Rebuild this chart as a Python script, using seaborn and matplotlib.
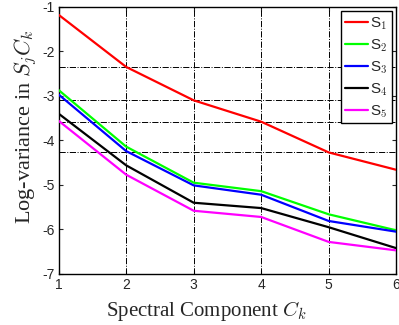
import numpy as np
import pandas as pd
import matplotlib
matplotlib.use("Agg")
import matplotlib.pyplot as plt
import seaborn as sns

# data
components = [1, 2, 3, 4, 5, 6]
s1 = [-1.18, -2.35, -3.10, -3.58, -4.27, -4.66]
s2 = [-2.87, -4.14, -4.95, -5.14, -5.66, -6.02]
s3 = [-2.97, -4.24, -5.01, -5.22, -5.81, -6.05]
s4 = [-3.40, -4.56, -5.40, -5.52, -5.95, -6.42]
s5 = [-3.56, -4.77, -5.58, -5.72, -6.28, -6.47]
labels = ['S$_1$', 'S$_2$', 'S$_3$', 'S$_4$', 'S$_5$']
colors = ['#ff0000', '#00ff00', '#0000ff', '#000000', '#ff00ff']

sns.set_style('ticks')
plt.rcParams['font.family'] = ['Liberation Sans', 'DejaVu Sans']
plt.rcParams['mathtext.fontset'] = 'cm'
plt.rcParams['axes.unicode_minus'] = False

rows = []
for lab, vals in zip(labels, [s1, s2, s3, s4, s5]):
    for c, v in zip(components, vals):
        rows.append({'component': c, 'logvar': v, 'series': lab})
df = pd.DataFrame(rows)

fig = plt.figure(figsize=(3.99, 3.25), dpi=100)
ax = fig.add_axes([0.147, 0.157, 0.846, 0.822])

# dash-dot guide lines
for c in components[1:-1]:
    ax.axvline(c, color='black', lw=0.7, ls='-.', zorder=1)
for v in s1[1:-1]:
    ax.axhline(v, color='black', lw=0.7, ls='-.', zorder=1)

sns.lineplot(data=df, x='component', y='logvar', hue='series',
             palette=dict(zip(labels, colors)), lw=1.6, ax=ax,
             legend=False, zorder=3)

ax.set_xlim(1, 6)
ax.set_ylim(-7, -1)
ax.set_xticks(components)
ax.set_yticks(range(-7, 0))
ax.tick_params(direction='in', top=True, right=True, labelsize=10,
               length=3, width=0.8, pad=3)
for sp in ax.spines.values():
    sp.set_linewidth(1.0)
    sp.set_color('black')

ax.set_xlabel('Spectral Component $C_k$', family='Liberation Serif',
              fontsize=15, labelpad=5)
ax.set_ylabel('Log-variance in $S_jC_k$', family='Liberation Serif',
              fontsize=16, labelpad=2)
ax.xaxis.label.set_x(0.436)
ax.yaxis.label.set_y(0.55)

handles = [plt.Line2D([], [], color=c, lw=1.6) for c in colors]
leg = ax.legend(handles, labels, loc='upper right', fontsize=11,
                frameon=True, fancybox=False, handlelength=1.5,
                handletextpad=0.15, labelspacing=0.35, borderpad=0.25,
                borderaxespad=0.3)
leg.get_frame().set_edgecolor('black')
leg.get_frame().set_linewidth(1.0)
leg.get_frame().set_alpha(1)
leg.set_zorder(5)

plt.savefig('out.png', dpi=100)
